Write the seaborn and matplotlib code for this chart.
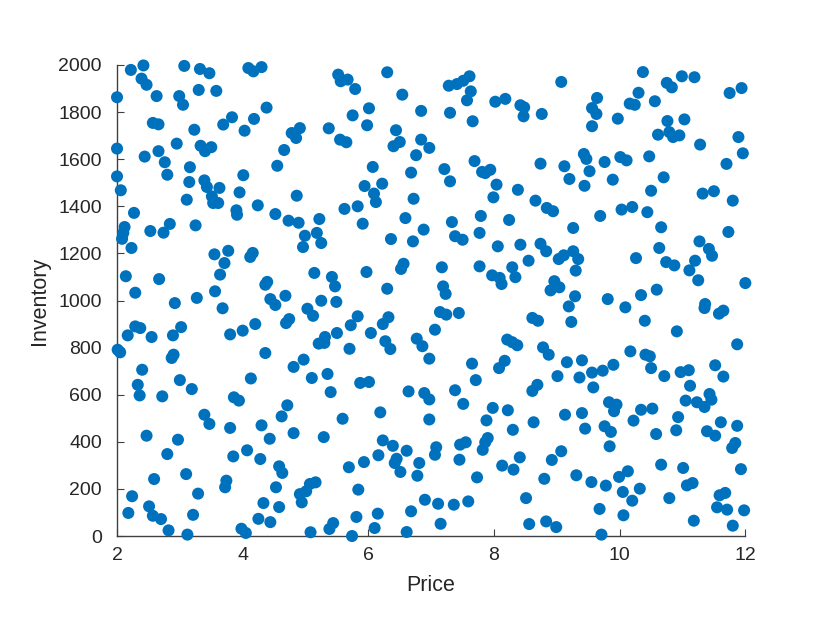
import matplotlib
matplotlib.use("Agg")
import matplotlib.pyplot as plt
import seaborn as sns
import pandas as pd

# values (price, inventory)
price = [
    2.22, 2.42, 3.07, 3.32, 3.47, 4.09, 4.17, 4.30, 2.39, 2.47, 2.00, 2.63, 2.99, 3.05, 3.30, 3.58,
    4.38, 2.57, 2.66, 3.23, 3.69, 3.83, 4.03, 4.18, 2.00, 2.44, 2.66, 2.76, 2.95, 3.33, 3.40, 3.50,
    3.16, 2.80, 2.00, 2.06, 3.15, 3.39, 3.43, 3.63, 4.01, 3.95, 3.11, 3.51, 3.53, 3.61, 4.24, 2.27,
    3.90, 3.91,
    5.52, 5.56, 5.67, 5.79, 6.30, 6.54, 6.01, 5.75, 5.98, 6.84, 4.78, 4.91, 4.85, 5.37, 5.55, 5.65,
    6.44, 6.50, 6.40, 6.84, 6.97, 4.66, 4.55, 6.07, 6.76, 6.68, 5.94, 6.22, 6.09, 6.12, 4.86, 6.72,
    5.62, 5.83, 4.52, 4.73, 4.89, 5.22, 6.59, 5.91,
    7.28, 7.41, 7.51, 7.61, 7.63, 7.57, 9.07, 8.02, 8.18, 8.42, 8.48, 8.47, 8.76, 7.30, 7.66, 7.69,
    7.21, 7.30, 7.81, 7.86, 7.94, 8.04, 7.99, 8.38, 8.74, 9.12, 9.20, 9.43, 9.47, 9.52, 9.44, 8.66,
    8.84, 8.94, 7.79, 8.24, 7.33,
    10.37, 10.75, 10.83, 10.99, 11.19, 11.75, 11.94, 9.64, 10.30, 10.16, 10.24, 10.56, 9.56, 9.63,
    9.97, 9.56, 10.76, 11.03, 10.61, 10.79, 10.85, 10.95, 11.28, 11.89, 11.96, 11.70, 9.76, 10.01,
    10.11, 10.47, 9.89, 10.70, 10.50, 11.32, 11.50, 11.80, 10.03, 10.20, 10.44, 9.69,
    2.12, 2.10, 2.08, 2.23, 2.53, 2.74, 2.84, 3.25, 2.14, 2.67, 2.29, 2.92, 3.27, 3.55, 3.77, 3.71,
    3.64, 3.56, 3.68, 4.12, 4.16, 4.36, 4.39, 4.44, 4.52, 2.29, 2.37, 2.17, 2.55, 2.89, 3.02, 3.80,
    4.00, 4.20, 2.01, 2.05, 2.90, 2.87, 4.36, 2.40, 3.00, 4.13,
    6.88, 6.36, 6.71, 4.99, 5.18, 5.25, 4.96, 6.56, 6.52, 5.14, 5.42, 5.47, 5.97, 6.30, 4.68, 5.25,
    5.49, 5.03, 5.12, 4.74, 4.69, 5.83, 5.72, 6.32, 6.23, 5.50, 5.31, 5.21, 5.30, 6.04, 5.70, 6.27,
    6.35, 6.77, 6.86, 4.97, 4.81, 5.10, 5.35, 6.97, 5.87, 6.01,
    9.26, 7.38, 7.50, 7.77, 8.06, 8.42, 8.74, 8.83, 9.03, 9.11, 9.26, 9.34, 9.30, 8.55, 7.17, 7.77,
    7.97, 8.09, 8.12, 8.29, 8.34, 8.96, 8.90, 9.04, 9.29, 9.19, 7.19, 7.23, 7.14, 7.24, 7.44, 8.61,
    8.70, 9.23, 7.06, 8.21, 8.29, 8.37, 8.78, 8.87, 7.65, 8.17, 8.08, 9.16, 9.40, 9.01, 9.36, 7.71,
    9.56,
    10.66, 11.73, 11.27, 11.42, 11.47, 10.63, 10.26, 10.74, 10.87, 11.20, 11.11, 11.25, 12.00, 10.59,
    10.34, 9.81, 10.09, 11.36, 11.35, 11.58, 11.65, 10.40, 10.91, 11.87, 10.17, 10.41, 10.48, 10.50,
    9.90, 9.73, 10.71, 10.97, 11.10, 11.52, 11.65,
    2.33, 2.36, 3.19, 2.72, 3.86, 3.94, 3.39, 3.47, 3.80, 4.30, 4.43, 2.47, 2.97, 2.80, 3.85, 4.07,
    4.28, 2.59, 3.10, 3.74, 3.72, 2.24, 3.29, 2.18, 2.51, 2.57, 2.70, 3.21, 4.33, 4.25, 4.44, 2.82,
    3.12, 3.98, 4.05,
    5.40, 6.64, 6.89, 6.97, 4.71, 4.62, 5.59, 6.19, 6.97, 4.81, 5.29, 6.23, 6.39, 6.61, 6.16, 5.93,
    5.69, 6.45, 6.42, 6.51, 6.81, 6.78, 4.58, 4.63, 4.53, 5.07, 5.16, 4.91, 5.01, 4.94, 5.84, 6.90,
    4.58, 5.81, 6.15, 6.68, 5.44, 5.38, 6.10, 5.08, 5.74, 6.61,
    7.38, 7.51, 8.61, 8.69, 7.98, 8.22, 7.88, 8.30, 8.63, 9.13, 9.40, 9.45, 7.46, 7.55, 7.90, 7.86,
    7.82, 7.08, 7.06, 7.45, 8.41, 8.13, 8.31, 9.07, 8.92, 8.80, 9.31, 9.55, 7.73, 7.11, 7.36, 7.59,
    8.51, 7.15, 8.56, 8.83, 8.99,
    9.58, 11.12, 9.83, 9.95, 9.91, 10.34, 10.52, 10.22, 11.05, 11.23, 11.35, 11.43, 11.46, 10.93,
    10.90, 10.58, 9.76, 9.86, 9.84, 11.39, 11.52, 11.61, 11.87, 11.84, 11.79, 10.66, 11.01, 11.93,
    9.78, 9.99, 10.13, 10.05, 10.32, 10.20, 11.07, 11.16, 10.79, 11.59, 11.68, 11.55, 11.71, 11.98,
    9.68, 10.06, 11.18, 11.80, 9.71,
]
inventory = [
    1979, 1998, 1996, 1983, 1965, 1987, 1973, 1991, 1942, 1916, 1863, 1868, 1868, 1831, 1894, 1890,
    1819, 1754, 1748, 1725, 1747, 1778, 1721, 1771, 1645, 1611, 1634, 1587, 1666, 1657, 1634, 1651,
    1566, 1534, 1527, 1468, 1503, 1510, 1482, 1478, 1532, 1459, 1428, 1442, 1414, 1414, 1404, 1372,
    1383, 1364,
    1959, 1931, 1938, 1898, 1969, 1874, 1816, 1786, 1744, 1805, 1711, 1732, 1690, 1731, 1683, 1672,
    1723, 1673, 1655, 1683, 1648, 1639, 1572, 1567, 1617, 1543, 1486, 1496, 1454, 1418, 1445, 1432,
    1389, 1400, 1367, 1339, 1330, 1346, 1350, 1326,
    1912, 1919, 1933, 1952, 1888, 1850, 1928, 1844, 1856, 1829, 1820, 1782, 1792, 1797, 1761, 1592,
    1558, 1506, 1546, 1541, 1555, 1492, 1438, 1470, 1581, 1570, 1516, 1622, 1601, 1549, 1487, 1424,
    1393, 1379, 1359, 1342, 1333,
    1970, 1924, 1905, 1952, 1948, 1881, 1902, 1860, 1882, 1836, 1831, 1846, 1817, 1792,
    1772, 1740, 1762, 1769, 1704, 1715, 1694, 1701, 1662, 1694, 1625, 1580, 1588, 1609,
    1595, 1612, 1513, 1523, 1466, 1454, 1464, 1424, 1386, 1397, 1375, 1359,
    1312, 1287, 1262, 1223, 1295, 1288, 1325, 1319, 1103, 1091, 1033, 989, 1011, 1196, 1211, 1159,
    1110, 1039, 967, 1185, 1202, 1067, 1079, 1006, 981, 890, 883, 852, 845, 852, 887, 856,
    872, 900, 791, 780, 770, 756, 777, 706, 662, 669,
    1301, 1261, 1251, 1275, 1287, 1244, 1227, 1156, 1134, 1117, 1100, 1060, 1121, 1050, 1020, 999,
    994, 965, 935, 921, 904, 933, 895, 929, 900, 862, 845, 817, 820, 862, 795, 827,
    794, 838, 806, 749, 718, 671, 688, 753, 650, 654,
    1308, 1273, 1258, 1287, 1230, 1237, 1241, 1209, 1176, 1192, 1209, 1176, 1127, 1169, 1141, 1145,
    1107, 1096, 1070, 1141, 1099, 1082, 1043, 1056, 1018, 975, 1060, 1028, 951, 940, 947, 926,
    914, 909, 876, 834, 823, 810, 801, 770, 732, 744, 713, 738, 746, 679, 673, 662,
    694,
    1311, 1291, 1251, 1219, 1190, 1223, 1180, 1163, 1149, 1169, 1128, 1086, 1074, 1046,
    1023, 1006, 971, 985, 968, 944, 957, 914, 869, 814, 784, 770, 763, 713,
    727, 702, 679, 696, 704, 725, 677,
    642, 597, 624, 593, 589, 575, 515, 476, 459, 470, 413, 426, 409, 348, 338, 364,
    327, 242, 263, 235, 207, 169, 180, 98, 126, 86, 72, 90, 140, 73, 59, 24,
    6, 31, 13,
    611, 614, 607, 580, 555, 508, 498, 525, 495, 437, 420, 406, 383, 362, 343, 314,
    292, 328, 310, 272, 310, 256, 296, 268, 207, 221, 228, 178, 190, 143, 197, 154,
    123, 81, 95, 105, 55, 30, 34, 16, 0, 17,
    619, 561, 616, 642, 544, 534, 491, 451, 483, 515, 522, 456, 388, 398, 416, 398,
    366, 377, 345, 324, 334, 299, 282, 360, 323, 243, 258, 229, 249, 137, 133, 147,
    161, 52, 51, 62, 38,
    631, 638, 568, 558, 530, 536, 541, 490, 575, 568, 548, 603, 579, 505,
    449, 433, 466, 442, 381, 445, 426, 483, 468, 395, 374, 303, 289, 284,
    214, 251, 275, 187, 201, 150, 215, 225, 161, 173, 183, 122, 112, 109,
    115, 88, 65, 44, 6,
]

df = pd.DataFrame({"Price": price, "Inventory": inventory})

fig = plt.figure(figsize=(8.3, 6.23), dpi=100)
ax = fig.add_axes([0.141, 0.1396, 0.757, 0.7561])

sns.scatterplot(data=df, x="Price", y="Inventory", ax=ax, color="#0072BD",
                s=75, edgecolor="none", linewidth=0, clip_on=False, zorder=3)

ax.set_xlim(2, 12)
ax.set_ylim(0, 2000)
ax.set_xticks(range(2, 13, 2))
ax.set_yticks(range(0, 2001, 200))

for side in ["top", "right"]:
    ax.spines[side].set_visible(False)
for side in ["left", "bottom"]:
    ax.spines[side].set_color("#404040")
    ax.spines[side].set_linewidth(1.0)

ax.tick_params(direction="in", length=5, color="#404040", labelsize=14,
               labelcolor="#262626")
ax.tick_params(axis="x", pad=8)
ax.tick_params(axis="y", pad=11)
ax.set_xlabel("Price", fontsize=15.5, color="#262626", labelpad=8)
ax.set_ylabel("Inventory", fontsize=15.5, color="#262626", labelpad=6)
for lab in ax.get_xticklabels() + ax.get_yticklabels() + [ax.xaxis.label, ax.yaxis.label]:
    lab.set_family(["Liberation Sans", "DejaVu Sans"])

fig.savefig("out.png", dpi=100)
